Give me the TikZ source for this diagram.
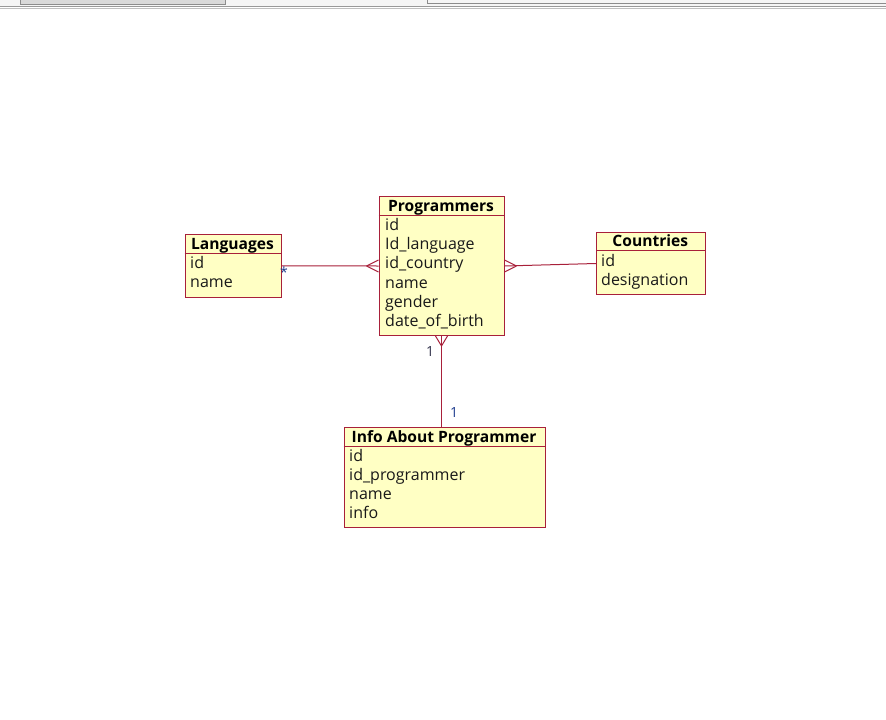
\documentclass[tikz,border=0pt]{standalone}
\usepackage{fontspec}
\setmainfont{Open Sans}
\definecolor{umlborder}{HTML}{A8203A}
\definecolor{umlfill}{HTML}{FFFFC4}
\definecolor{lblblue}{HTML}{1F3D8F}
\definecolor{lbldark}{HTML}{33334D}
\begin{document}
\begin{tikzpicture}[x=1pt,y=-1pt,
  entity/.style={draw=umlborder, fill=umlfill, line width=1pt, inner sep=0pt, anchor=north west},
  sepline/.style={draw=umlborder, line width=1pt},
  hdr/.style={font=\fontsize{15.6}{17}\selectfont\bfseries, anchor=base, inner sep=0pt},
  fld/.style={font=\fontsize{16}{17}\selectfont, anchor=base west, inner sep=0pt, text=black!90},
  rel/.style={draw=umlborder, line width=1pt},
  card/.style={font=\fontsize{14}{15}\selectfont, inner sep=0pt}]
\useasboundingbox (0,0) rectangle (886,720);
\fill[white] (0,0) rectangle (886,720);
% top window strip
\fill[black!4] (0,0) rectangle (886,7);
\fill[black!15] (20,0) rectangle (225,4);
\draw[black!45, line width=0.6pt] (20,0) -- (20,4) -- (225,4) -- (225,0);
\draw[black!45, line width=0.6pt] (427,0) -- (427,3.5) -- (886,3.5);
\draw[black!40, line width=0.6pt] (0,6.5) -- (886,6.5);
\draw[black!25, line width=0.6pt] (0,8) -- (886,8);

% Languages
\node[entity, minimum width=96pt, minimum height=63.3pt] (lang) at (184.5,233.7) {};
\draw[sepline] (184.5,253) -- (280.5,253);
\node[hdr] (langh) at (232.5,249.5) {Languages};
\node[fld] (lang1) at (190,268.5) {id};
\node[fld] (lang2) at (190,287.5) {name};

% Programmers
\node[entity, minimum width=125pt, minimum height=139pt] (prog) at (378.5,196) {};
\draw[sepline] (378.5,215) -- (503.5,215);
\node[hdr] (progh) at (441,211) {Programmers};
\node[fld] (prog1) at (385,230.5) {id};
\node[fld] (prog2) at (385,249.7) {Id\_language};
\node[fld] (prog3) at (385,268.9) {id\_country};
\node[fld] (prog4) at (385,288.1) {name};
\node[fld] (prog5) at (385,307.3) {gender};
\node[fld] (prog6) at (385,326.5) {date\_of\_birth};

% Countries
\node[entity, minimum width=108.5pt, minimum height=62.6pt] (ctry) at (596,231.7) {};
\draw[sepline] (596,250.7) -- (704.5,250.7);
\node[hdr] (ctryh) at (650.3,246.5) {Countries};
\node[fld] (ctry1) at (601,266.5) {id};
\node[fld] (ctry2) at (601,285.5) {designation};

% Info About Programmer
\node[entity, minimum width=201pt, minimum height=100pt] (info) at (343.5,426.7) {};
\draw[sepline] (343.5,446) -- (544.5,446);
\node[hdr] (infoh) at (444,442) {Info About Programmer};
\node[fld] (info1) at (349,461.5) {id};
\node[fld] (info2) at (349,480.5) {id\_programmer};
\node[fld] (info3) at (349,499.5) {name};
\node[fld] (info4) at (349,518.5) {info};

% relations
\draw[rel] (lang.east) -- (prog.west);
\draw[rel] (prog.west) ++(-12,0) -- ++(12,-6) ++(-12,6) -- ++(12,6);
\draw[rel] (prog.east) -- (ctry.west);
\draw[rel] (prog.east) ++(12,0) -- ++(-12,-6) ++(12,6) -- ++(-12,6);
\draw[rel] (prog.south) -- (prog.south |- info.north);
\draw[rel] (prog.south) ++(0,10) -- ++(-6,-10) ++(6,10) -- ++(6,-10);

\node[card, text=lblblue] (cstar) at (284,272) {*};
\node[card, text=lbldark] (cone1) at (430,351) {1};
\node[card, text=lblblue] (cone2) at (454,412) {1};
\end{tikzpicture}
\end{document}
